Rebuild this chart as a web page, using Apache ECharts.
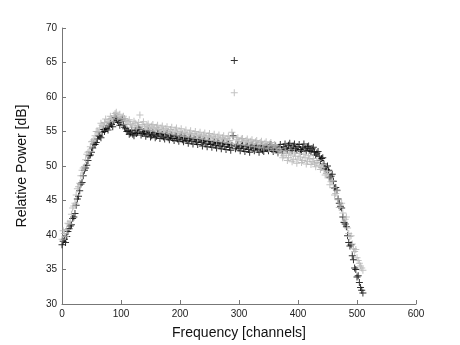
<!DOCTYPE html>
<html>
<head>
<meta charset="utf-8">
<script src="https://cdn.jsdelivr.net/npm/echarts@6/dist/echarts.min.js"></script>
<style>html,body{margin:0;padding:0;background:#fff;}#c{width:460px;height:345px;}</style>
</head>
<body>
<div id="c"></div>
<script>
var channelsA = [0,4,8,12,16,20,24,28,32,36,40,44,48,52,56,60,64,68,72,76,80,84,88,92,96,100,104,108,112,116,120,124,128,132,136,140,144,148,152,156,160,164,168,172,176,180,184,188,192,196,200,204,208,212,216,220,224,228,232,236,240,244,248,252,256,260,264,268,272,276,280,284,288,292,296,300,304,308,312,316,320,324,328,332,336,340,344,348,352,356,360,364,368,372,376,380,384,388,392,396,400,404,408,412,416,420,424,428,432,436,440,444,448,452,456,460,464,468,472,476,480,484,488,492,496,500,504,508];

var channelsB = [2,6,10,14,18,22,26,30,34,38,42,46,50,54,58,62,66,70,74,78,82,86,90,94,98,102,106,110,114,118,122,126,130,134,138,142,146,150,154,158,162,166,170,174,178,182,186,190,194,198,202,206,210,214,218,222,226,230,234,238,242,246,250,254,258,262,266,270,274,278,282,286,290,294,298,302,306,310,314,318,322,326,330,334,338,342,346,350,354,358,362,366,370,374,378,382,386,390,394,398,402,406,410,414,418,422,426,430,434,438,442,446,450,454,458,462,466,470,474,478,482,486,490,494,498,502,506,510];

var blackPowerA = [38.6,39.4,39.8,40.9,41.5,42.6,44.3,45.6,47.4,48.6,49.7,50.8,51.6,52.6,53.1,53.9,54.3,54.9,55.0,55.5,55.8,56.0,56.4,56.9,56.3,56.5,56.0,55.4,55.1,54.8,54.6,55.1,54.9,55.3,54.7,54.9,54.6,54.8,54.4,54.6,54.3,54.7,54.5,54.2,54.5,54.1,54.3,54.0,54.4,53.9,54.1,53.8,54.2,53.7,53.9,53.6,53.9,53.5,53.8,53.4,53.6,53.2,53.5,53.1,53.3,53.0,53.4,52.9,53.2,52.8,53.1,52.7,53.0,65.3,52.8,52.6,52.9,52.5,52.8,52.4,52.7,52.5,52.8,52.4,52.6,52.3,52.7,52.5,52.9,52.4,52.6,52.3,52.7,52.4,52.8,52.5,53.0,52.6,52.9,52.5,52.8,52.4,52.7,52.5,52.8,52.3,52.5,52.0,51.9,51.4,51.1,50.3,49.5,49.4,48.5,47.8,46.9,45.2,44.1,42.6,41.6,39.9,38.4,37.0,35.2,33.9,33.1,32.0];

var blackPowerB = [39.1,38.9,40.5,41.3,42.4,43.1,45.2,46.4,47.6,49.4,50.1,51.5,52.0,53.2,53.4,54.4,54.1,55.3,55.4,55.2,56.2,55.7,57.0,56.6,55.9,56.8,55.6,55.0,54.6,55.2,54.4,54.7,55.5,54.5,55.0,54.3,55.1,54.2,54.9,54.1,54.8,54.0,54.6,53.9,54.7,53.8,54.5,53.7,54.3,53.6,54.4,53.5,54.0,53.3,54.1,53.2,53.8,53.1,53.9,52.9,53.7,52.8,53.6,52.7,53.5,52.6,53.3,52.5,53.4,52.4,53.2,52.3,54.4,52.5,53.1,52.2,53.0,52.1,52.9,52.0,53.0,52.2,52.9,52.0,53.0,52.1,52.8,52.2,53.1,52.1,52.9,52.0,53.1,52.2,53.2,52.3,53.3,52.2,53.2,52.3,53.1,52.1,53.2,52.2,52.9,52.1,52.7,51.6,52.1,50.8,51.2,49.6,50.0,48.3,48.8,46.8,46.5,44.6,43.9,41.8,41.2,38.9,38.6,36.4,35.0,34.1,32.4,31.6];

var grayPowerA = [39.4,40.2,40.8,41.6,43.0,44.2,45.8,47.0,48.6,49.7,50.9,52.0,52.8,53.6,54.4,55.0,55.5,55.9,56.3,56.1,56.7,56.9,57.3,57.8,57.1,56.9,57.2,56.6,56.4,56.1,55.9,56.2,55.8,57.4,56.0,55.7,55.9,55.5,55.8,55.4,55.6,55.3,55.5,55.2,55.4,55.0,55.3,54.9,55.2,54.8,55.0,54.7,54.9,54.6,54.8,54.5,54.7,54.4,54.6,54.3,54.5,54.2,54.4,54.1,54.3,54.0,54.2,53.9,54.1,53.8,54.0,53.7,54.9,60.6,53.8,53.6,53.9,53.5,53.7,53.4,53.6,53.3,53.5,53.2,53.4,53.1,53.3,53.0,53.2,52.9,53.1,52.6,52.3,51.9,51.5,51.8,51.2,51.6,50.9,51.4,51.0,51.3,50.8,51.2,50.7,51.0,50.6,50.4,50.5,50.1,49.8,49.4,48.9,48.4,47.7,46.9,46.0,45.1,44.3,43.2,42.3,41.0,39.8,38.7,37.6,36.7,35.9,35.2];

var grayPowerB = [40.6,39.8,41.7,42.0,43.9,44.6,46.7,47.5,49.4,49.9,51.7,52.1,53.5,53.8,55.0,54.9,56.2,55.7,56.8,56.4,57.2,56.5,57.6,57.0,57.5,56.4,56.9,56.0,56.7,55.6,56.5,55.5,56.3,55.4,56.4,55.3,56.1,55.2,56.0,55.1,55.9,54.9,55.8,54.8,55.7,54.7,55.6,54.6,55.5,54.4,55.4,54.3,55.2,54.2,55.1,54.1,55.0,54.0,54.9,53.9,54.8,53.8,54.7,53.7,54.6,53.6,54.5,53.5,54.4,53.4,54.3,53.3,54.2,53.2,54.1,53.1,54.0,53.0,53.9,52.9,53.8,52.8,53.7,52.7,53.6,52.6,53.5,52.5,53.4,52.3,53.0,51.8,52.5,51.2,52.2,50.8,52.0,50.6,51.9,50.4,51.8,50.5,51.7,50.3,51.5,50.2,51.1,49.9,50.8,49.5,50.2,48.7,49.2,47.3,47.9,45.8,46.4,44.0,44.6,42.0,42.6,40.2,39.9,38.0,37.9,36.3,35.5,34.9];

var xTicks = [0,100,200,300,400,500,600];
var yTicks = [30,35,40,45,50,55,60,65,70];

function pairs(xs, ys){ return xs.map(function(x,i){ return [x, ys[i]]; }); }

var plus = 'path://M3,0h1v7h-1zM0,3h7v1h-7z';
var font = 'Liberation Sans, Arial, sans-serif';
var axisCommon = {
  axisLine: {show: true, lineStyle: {color: '#777', width: 1}},
  axisTick: {show: true, inside: true, length: 4, lineStyle: {color: '#777'}},
  axisLabel: {color: '#222', fontSize: 10, fontFamily: font},
  splitLine: {show: false},
  nameTextStyle: {color: '#111', fontSize: 14, fontFamily: font}
};

var chart = echarts.init(document.getElementById('c'), null, {renderer: 'canvas'});
chart.setOption({
  animation: false,
  backgroundColor: '#fff',
  grid: {left: 62, top: 28, right: 44, bottom: 38, containLabel: false},
  xAxis: Object.assign({}, axisCommon, {
    type: 'value', min: xTicks[0], max: xTicks[xTicks.length-1], interval: 100,
    name: 'Frequency [channels]', nameLocation: 'middle', nameGap: 22,
    axisLabel: Object.assign({}, axisCommon.axisLabel, {margin: 5})
  }),
  yAxis: Object.assign({}, axisCommon, {
    type: 'value', min: yTicks[0], max: yTicks[yTicks.length-1], interval: 5,
    name: 'Relative Power [dB]', nameLocation: 'middle', nameGap: 33,
    axisLabel: Object.assign({}, axisCommon.axisLabel, {margin: 5})
  }),
  series: [
    {type: 'scatter', data: pairs(channelsA, blackPowerA).concat(pairs(channelsB, blackPowerB)),
     symbol: plus, symbolSize: 7, itemStyle: {color: '#000'}},
    {type: 'scatter', data: pairs(channelsA, grayPowerA).concat(pairs(channelsB, grayPowerB)),
     symbol: plus, symbolSize: 7, itemStyle: {color: '#b3b3b3'}}
  ]
});
</script>
</body>
</html>
